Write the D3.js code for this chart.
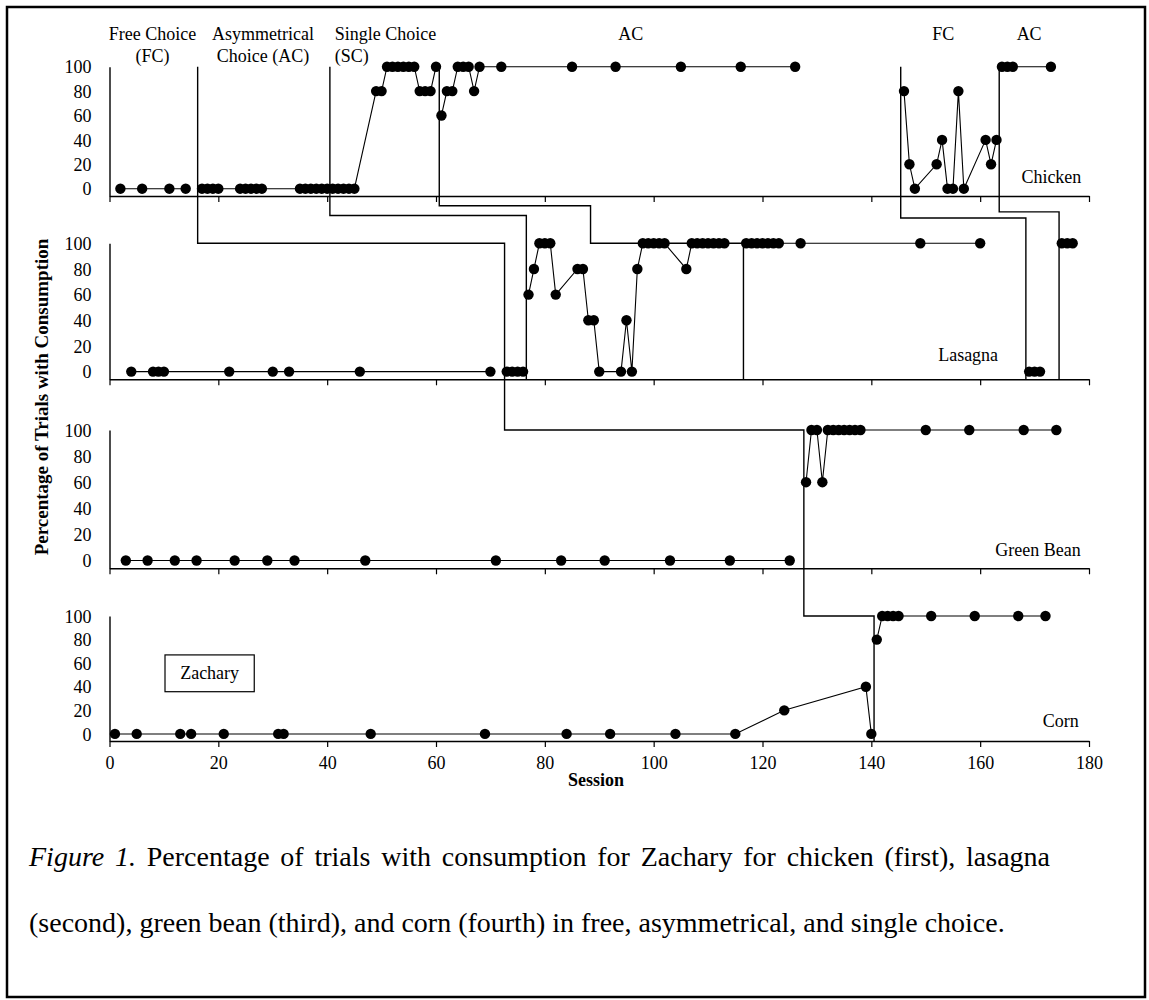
<!DOCTYPE html>
<html><head><meta charset="utf-8">
<script src="https://cdn.jsdelivr.net/npm/d3@7"></script>
<style>
body{margin:0;background:#fff}
svg{display:block}
text{font-family:"Liberation Serif","Times New Roman",serif;fill:#000}
</style>
</head><body>
<svg id="chart" width="1149" height="1000"></svg>
<script>
// ---------------- DATA ----------------
const foods = ["Chicken", "Lasagna", "Green Bean", "Corn"];
const xTickLabels = [0, 20, 40, 60, 80, 100, 120, 140, 160, 180];
const yTickLabels = [0, 20, 40, 60, 80, 100];

const chickenSessions = [2,6,11,14, 17,18,19,20,24,25,26,27,28,35,36,37,38,39,40,
  41,42,43,44,45,49,50,51,52,53,54,55,56,57,58,59,60,
  61,62,63,64,65,66,67,68,72,85,93,105,116,126,
  146,147,148,152,153,154,155,156,157,161,162,163,
  164,165,166,173];
const chickenValues = [0,0,0,0, 0,0,0,0,0,0,0,0,0,0,0,0,0,0,0,
  0,0,0,0,0,80,80,100,100,100,100,100,100,80,80,80,100,
  60,80,80,100,100,100,80,100,100,100,100,100,100,100,
  80,20,0,20,40,0,0,80,0,40,20,40,
  100,100,100,100];

const lasagnaSessions = [4,8,9,10,22,30,33,46,70, 73,74,75,76,
  77,78,79,80,81,82,86,87,88,89,90,94,95,96,97,98,99,100,101,102,106,107,108,109,110,111,112,113,
  117,118,119,120,121,122,123,127,149,160, 169,170,171, 175,176,177];
const lasagnaValues = [0,0,0,0,0,0,0,0,0, 0,0,0,0,
  60,80,100,100,100,60,80,80,40,40,0,0,40,0,80,100,100,100,100,100,80,100,100,100,100,100,100,100,
  100,100,100,100,100,100,100,100,100,100, 0,0,0, 100,100,100];

const greenBeanSessions = [3,7,12,16,23,29,34,47,71,83,91,103,114,125,
  128,129,130,131,132,133,134,135,136,137,138,150,158,168,174];
const greenBeanValues = [0,0,0,0,0,0,0,0,0,0,0,0,0,0,
  60,100,100,60,100,100,100,100,100,100,100,100,100,100,100];

const cornSessions = [1,5,13,15,21,31,32,48,69,84,92,104,115,124,139,140,
  141,142,143,144,145,151,159,167,172];
const cornValues = [0,0,0,0,0,0,0,0,0,0,0,0,0,20,40,0,
  80,100,100,100,100,100,100,100,100];

// sessions at which the phase changes (condition lines) for each food
const chickenChanges = [16.2, 40.5, 60.6, 145.4, 163.5];
const lasagnaChanges = [72.6, 76.6, 116.5, 168.4, 174.5];
const greenBeanChanges = [127.6];
const cornChanges = [140.5];

const phaseLabels = [
  {lines: ["Free Choice", "(FC)"], s: 7.9, anchor: "middle"},
  {lines: ["Asymmetrical", "Choice (AC)"], s: 28.2, anchor: "middle"},
  {lines: ["Single Choice", "(SC)"], s: 41.4, anchor: "start"},
  {lines: ["AC"], s: 95.8, anchor: "middle"},
  {lines: ["FC"], s: 153.2, anchor: "middle"},
  {lines: ["AC"], s: 169.0, anchor: "middle"}
];

const captionLead = "Figure 1.";
const captionLine1 = " Percentage of trials with consumption for Zachary for chicken (first), lasagna";
const captionLine2 = "(second), green bean (third), and corn (fourth) in free, asymmetrical, and single choice.";

// ---------------- LAYOUT ----------------
const svg = d3.select("#chart");
const FONT = 18;
const SERIF = '"Liberation Serif","Times New Roman",serif';
const panelTops = [66.7, 243.3, 430, 616];
const panelAxes = [196, 379.3, 568.3, 741];

const x = d3.scaleLinear().domain([0, 180]).range([109.5, 1089]);
const ys = panelTops.map((t, i) => d3.scaleLinear().domain([-6, 100]).range([panelAxes[i], t]));

// frame
svg.append("rect").attr("x", 7).attr("y", 7).attr("width", 1138).attr("height", 990)
  .attr("fill", "none").attr("stroke", "#000").attr("stroke-width", 2.5);

const series = [
  {s: chickenSessions, v: chickenValues, c: chickenChanges},
  {s: lasagnaSessions, v: lasagnaValues, c: lasagnaChanges},
  {s: greenBeanSessions, v: greenBeanValues, c: greenBeanChanges},
  {s: cornSessions, v: cornValues, c: cornChanges}
];

// axes
series.forEach((d, i) => {
  const y = ys[i];
  const xa = d3.axisBottom(x).tickValues(xTickLabels).tickSize(6).tickSizeOuter(0)
    .tickFormat(i === 3 ? d3.format("d") : "");
  const gx = svg.append("g").attr("transform", `translate(0,${panelAxes[i]})`).call(xa);
  gx.select(".domain").attr("stroke-width", 1.4);
  gx.selectAll(".tick line").attr("stroke-width", 1.2);
  gx.selectAll("text").attr("font-size", FONT).attr("font-family", SERIF).attr("y", 28).attr("dy", 0);

  const ya = d3.axisLeft(y).tickValues(yTickLabels).tickSize(0).tickSizeOuter(0).tickPadding(18);
  const gy = svg.append("g").attr("transform", `translate(${x(0)},0)`).call(ya);
  gy.select(".domain").attr("stroke-width", 1.4);
  gy.selectAll("text").attr("font-size", FONT).attr("font-family", SERIF).attr("dy", "0.34em");
});

// phase (condition) lines
const C = chickenChanges, L = lasagnaChanges, G = greenBeanChanges, K = cornChanges;
const phaseSteps = [
  [[C[0],0,100],[C[0],1,100],[L[0],1,100],[L[0],2,100],[G[0],2,100],[G[0],3,100],[K[0],3,100],[K[0],3,-6]],
  [[C[1],0,100],[C[1],0,-22],[L[1],0,-22],[L[1],1,-6]],
  [[C[2],0,100],[C[2],0,-14],[88.4,0,-14],[88.4,1,100],[L[2],1,100],[L[2],1,-6]],
  [[C[3],0,100],[C[3],0,-24],[L[3],0,-24],[L[3],1,-6]],
  [[C[4],0,100],[C[4],0,-19],[L[4],0,-19],[L[4],1,-6]]
];
const stepLine = d3.line().x(p => x(p[0])).y(p => ys[p[1]](p[2]));
svg.append("g").selectAll("path").data(phaseSteps).join("path")
  .attr("d", stepLine).attr("fill", "none").attr("stroke", "#000").attr("stroke-width", 1.4);

// data lines and dots
series.forEach((d, i) => {
  const y = ys[i];
  const pts = d.s.map((s, j) => ({s, v: d.v[j], ph: d.c.filter(c => c < s).length}));
  const groups = d3.groups(pts, p => p.ph).map(g => g[1]);
  const line = d3.line().x(p => x(p.s)).y(p => y(p.v));
  svg.append("g").selectAll("path").data(groups).join("path")
    .attr("d", line).attr("fill", "none").attr("stroke", "#000").attr("stroke-width", 1.1);
  svg.append("g").selectAll("circle").data(pts).join("circle")
    .attr("cx", p => x(p.s)).attr("cy", p => y(p.v)).attr("r", 5.2).attr("fill", "#000");
});

// phase labels
phaseLabels.forEach(pl => {
  pl.lines.forEach((t, k) => {
    svg.append("text").attr("x", x(pl.s)).attr("y", 40 + k * 22)
      .attr("text-anchor", pl.anchor).attr("font-size", FONT).text(t);
  });
});

// food labels
const foodLabelPos = [[178.6, 5], [163.3, 8], [178.5, 3.5], [178.1, 5.9]];
foods.forEach((f, i) => {
  svg.append("text").attr("x", x(foodLabelPos[i][0])).attr("y", ys[i](foodLabelPos[i][1]))
    .attr("text-anchor", "end").attr("font-size", FONT).text(f);
});

// participant box
const bx0 = x(10.2), bx1 = x(26.6), by0 = ys[3](67), by1 = ys[3](35.8);
svg.append("rect").attr("x", bx0).attr("y", by0).attr("width", bx1 - bx0).attr("height", by1 - by0)
  .attr("fill", "none").attr("stroke", "#000").attr("stroke-width", 1.2);
svg.append("text").attr("x", (bx0 + bx1) / 2).attr("y", (by0 + by1) / 2 + 6)
  .attr("text-anchor", "middle").attr("font-size", FONT).text("Zachary");

// axis titles
svg.append("text").attr("x", 596).attr("y", 786).attr("text-anchor", "middle")
  .attr("font-size", FONT).attr("font-weight", "bold").text("Session");
svg.append("text").attr("transform", "translate(48,397) rotate(-90)").attr("text-anchor", "middle")
  .attr("font-size", 19).attr("font-weight", "bold").text("Percentage of Trials with Consumption");

// caption (first line justified to the right margin)
const capX = 29, capRight = 1050;
const cap = svg.append("text").attr("x", capX).attr("y", 866).attr("font-size", 28);
cap.append("tspan").attr("font-style", "italic").text(captionLead);
cap.append("tspan").text(captionLine1);
const len = cap.node().getComputedTextLength();
const nSpaces = (captionLead + captionLine1).split(" ").length - 1;
if (len < capRight - capX) cap.attr("word-spacing", (capRight - capX - len) / nSpaces);
svg.append("text").attr("x", capX).attr("y", 932).attr("font-size", 28).text(captionLine2);
</script>
</body></html>
